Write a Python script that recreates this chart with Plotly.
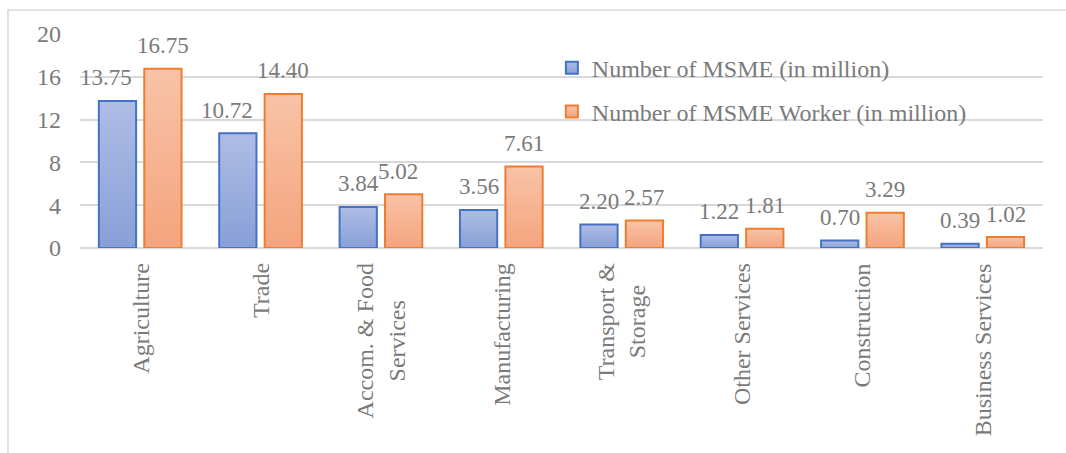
import plotly.graph_objects as go

# Sectors and values (millions)
sectors = ["Agriculture", "Trade", "Accom. & Food<br>Services", "Manufacturing",
           "Transport &<br>Storage", "Other Services", "Construction", "Business Services"]
msme_units = [13.75, 10.72, 3.84, 3.56, 2.20, 1.22, 0.70, 0.39]
msme_workers = [16.75, 14.40, 5.02, 7.61, 2.57, 1.81, 3.29, 1.02]
series_names = ["Number of MSME (in million)", "Number of MSME Worker (in million)"]
y_ticks = [0, 4, 8, 12, 16, 20]

# small horizontal nudges (px) for a couple of the value labels
unit_label_nudge = [-11, -11, 0, 0, 0, 0, 0, 0]
worker_label_nudge = [0, 0, -6, 0, 0, 0, 0, 0]

SERIF = "Liberation Serif"
TXT = "#7a7a7a"
GRID = "#d9d9d9"
BLUE_BASE = "rgb(155, 173, 222)"
ORANGE_BASE = "rgb(246, 178, 143)"
BAR_GAP = 0.245

label_font = dict(family=SERIF, size=23, color=TXT)
axis_font = dict(family=SERIF, size=24, color=TXT)

idx = list(range(len(sectors)))

fig = go.Figure()
fig.add_trace(go.Bar(
    x=idx, y=msme_units, name=series_names[0], legend="legend",
    marker=dict(color=BLUE_BASE, line=dict(color="#4472c4", width=2)),
))
fig.add_trace(go.Bar(
    x=idx, y=msme_workers, name=series_names[1], legend="legend2",
    marker=dict(color=ORANGE_BASE, line=dict(color="#ed7d31", width=2)),
))

offset = (1 - BAR_GAP) / 4
for i, (u, w) in enumerate(zip(msme_units, msme_workers)):
    fig.add_annotation(x=i - offset, y=u, xref="x", yref="y", text=f"{u:.2f}",
                       showarrow=False, yanchor="middle", yshift=23,
                       xshift=unit_label_nudge[i], font=label_font)
    fig.add_annotation(x=i + offset, y=w, xref="x", yref="y", text=f"{w:.2f}",
                       showarrow=False, yanchor="middle", yshift=23,
                       xshift=worker_label_nudge[i], font=label_font)

# rotated, centre-aligned category labels
for i, s in enumerate(sectors):
    fig.add_annotation(x=i, y=0, xref="x", yref="y", text=s, showarrow=False,
                       textangle=-90, align="center", xanchor="center",
                       yanchor="top", yshift=-13, font=axis_font)

fig.update_layout(
    width=1066, height=453,
    margin=dict(l=80, r=23, t=34, b=205),
    paper_bgcolor="white", plot_bgcolor="white",
    barmode="group", bargap=BAR_GAP, bargroupgap=0.18,
    xaxis=dict(tickmode="array", tickvals=idx, showticklabels=False,
               range=[-0.5, len(sectors) - 0.5], showgrid=False, zeroline=False,
               showline=False, ticks=""),
    yaxis=dict(range=[0, 20], tickmode="array", tickvals=y_ticks,
               showgrid=True, gridcolor=GRID, gridwidth=1.5,
               zeroline=True, zerolinecolor=GRID, zerolinewidth=1.5,
               showline=False, ticks="", ticklabelstandoff=18, tickfont=axis_font),
    legend=dict(x=0.49, y=0.841, xanchor="left", yanchor="middle",
                bgcolor="rgba(0,0,0,0)", font=axis_font),
    legend2=dict(x=0.49, y=0.636, xanchor="left", yanchor="middle",
                 bgcolor="rgba(0,0,0,0)", font=axis_font),
    shapes=[dict(type="rect", xref="paper", yref="paper",
                 x0=-0.0748, x1=1.06, y0=-1.0, y1=1.112,
                 line=dict(color=GRID, width=1.5), layer="below")],
    showlegend=True,
)

# vertical light-to-dark gradient on every bar and legend swatch
gradient_js = """
(function(){
  var gd = document.getElementById('{plot_id}');
  var NS = 'http://www.w3.org/2000/svg';
  var grads = {
    'rgb(155, 173, 222)': ['gradBlue', '#aebde5', '#889fd7'],
    'rgb(246, 178, 143)': ['gradOrange', '#f8c3a7', '#f4a47d']
  };
  function ensureDefs(){
    if (document.getElementById('gradBlue')) return;
    var svg = gd.querySelector('svg.main-svg');
    var defs = svg.querySelector('defs') || svg.insertBefore(document.createElementNS(NS,'defs'), svg.firstChild);
    Object.keys(grads).forEach(function(k){
      var g = grads[k];
      var lg = document.createElementNS(NS, 'linearGradient');
      lg.setAttribute('id', g[0]);
      lg.setAttribute('x1','0'); lg.setAttribute('y1','0');
      lg.setAttribute('x2','0'); lg.setAttribute('y2','1');
      [[0,g[1]],[1,g[2]]].forEach(function(s){
        var st = document.createElementNS(NS, 'stop');
        st.setAttribute('offset', s[0]);
        st.setAttribute('stop-color', s[1]);
        lg.appendChild(st);
      });
      defs.appendChild(lg);
    });
  }
  function paint(){
    ensureDefs();
    gd.querySelectorAll('.barlayer path, .legendpoints path').forEach(function(p){
      var f = p.style.fill;
      if (grads[f]) { p.dataset.base = f; }
      var b = p.dataset.base;
      if (b && grads[b]) { p.style.fill = 'url(#' + grads[b][0] + ')'; }
    });
  }
  paint();
  gd.on('plotly_afterplot', paint);
  setTimeout(paint, 50);
})();
"""

fig.write_html("out.html", post_script=gradient_js)
